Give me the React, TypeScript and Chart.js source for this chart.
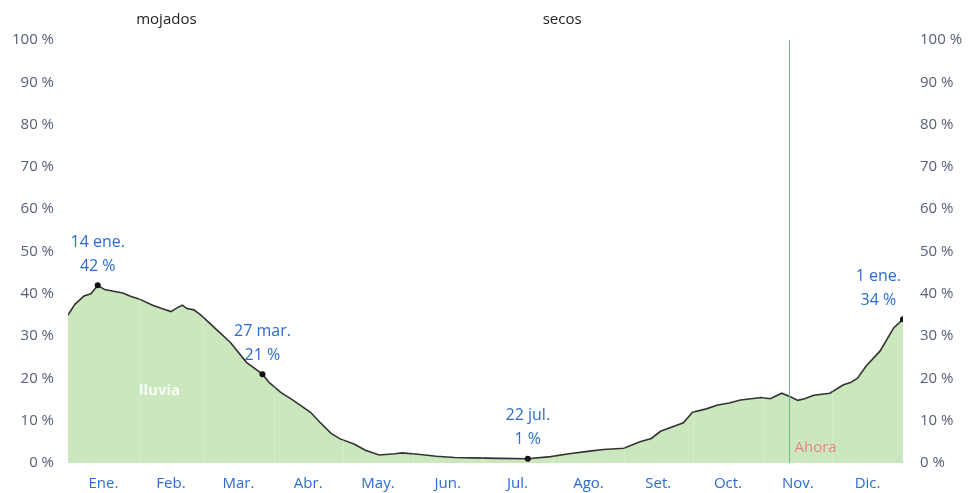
import React, { useEffect, useRef } from "react";
import { Chart, registerables } from "chart.js";

Chart.register(...registerables);

// Day of year (0 = 1 Jan) and daily chance of a wet day (%)
const DAYS = [0, 3, 7, 10, 13, 16, 21, 24, 27, 31, 37, 41, 45, 48, 50, 52, 55, 58, 62, 66, 71, 78, 85, 88, 93, 98, 106, 110, 115, 119, 125, 130, 136, 143, 146, 154, 161, 169, 177, 189, 201, 211, 219, 228, 234, 243, 250, 255, 259, 269, 273, 279, 284, 289, 294, 303, 307, 312, 316, 319, 322, 326, 333, 339, 342, 345, 349, 355, 361, 364, 365];
const RAIN = [35, 37.5, 39.5, 40, 42, 41, 40.5, 40.2, 39.5, 38.8, 37.3, 36.5, 35.8, 36.8, 37.3, 36.5, 36.2, 35, 33, 31, 28.5, 23.8, 21, 19, 16.7, 15, 12, 9.7, 7, 5.7, 4.5, 3, 1.9, 2.2, 2.4, 2, 1.6, 1.3, 1.2, 1.1, 1, 1.5, 2.2, 2.8, 3.2, 3.5, 5, 5.8, 7.5, 9.5, 12, 12.8, 13.7, 14.2, 14.9, 15.5, 15.2, 16.5, 15.6, 14.8, 15.2, 16, 16.5, 18.5, 19, 20, 23, 26.5, 32, 33.5, 34];

// Highlighted points
const HI_DAYS = [13, 85, 201, 365];
const HI_VALUES = [42, 21, 1, 34];
const HI_DATES = ["14 ene.", "27 mar.", "22 jul.", "1 ene."];

const MONTHS = ["Ene.", "Feb.", "Mar.", "Abr.", "May.", "Jun.", "Jul.", "Ago.", "Set.", "Oct.", "Nov.", "Dic."];
const MONTH_STARTS = [0, 31, 59, 90, 120, 151, 181, 212, 243, 273, 304, 334, 365];
const Y_TICKS = [0, 10, 20, 30, 40, 50, 60, 70, 80, 90, 100];

const NOW_DAY = 315;
const NOW_LABEL = "Ahora";
const SERIES_LABEL = "lluvia";
const SERIES_LABEL_POS = { day: 40, value: 17 };
const TOP_LABELS = [
  { text: "mojados", day: 43 },
  { text: "secos", day: 216 },
];

const FONT = "'Open Sans', 'Noto Sans', sans-serif";
const BLUE = "#2a6cd4";
const TICK_GRAY = "#56607a";
const GREEN = "#cbe7bd";

export default function App() {
  const ref = useRef<HTMLCanvasElement | null>(null);

  useEffect(() => {
    if (!ref.current) return;
    const monthMids = MONTHS.map((_, i) => (MONTH_STARTS[i] + MONTH_STARTS[i + 1]) / 2);

    const overlay = {
      id: "overlay",
      afterDatasetsDraw(chart: any) {
        const { ctx, chartArea } = chart;
        const xs = chart.scales.x;
        const ys = chart.scales.y;
        ctx.save();
        // faint month separators visible over the fill
        ctx.strokeStyle = "rgba(255,255,255,0.2)";
        ctx.lineWidth = 1;
        MONTH_STARTS.slice(1, -1).forEach((d) => {
          const px = Math.round(xs.getPixelForValue(d)) + 0.5;
          ctx.beginPath();
          ctx.moveTo(px, chartArea.top);
          ctx.lineTo(px, chartArea.bottom);
          ctx.stroke();
        });
        // now line
        const nx = Math.round(xs.getPixelForValue(NOW_DAY)) + 0.5;
        ctx.strokeStyle = "#ee7f93";
        ctx.lineWidth = 1;
        ctx.beginPath();
        ctx.moveTo(nx, chartArea.top);
        ctx.lineTo(nx, chartArea.bottom);
        ctx.stroke();
        ctx.fillStyle = "rgba(240,110,125,0.85)";
        ctx.font = `15px ${FONT}`;
        ctx.textAlign = "left";
        ctx.textBaseline = "middle";
        ctx.fillText(NOW_LABEL, nx + 5, chartArea.bottom - 15);

        // series label
        ctx.fillStyle = "rgba(255,255,255,0.85)";
        ctx.font = `bold 15px ${FONT}`;
        ctx.textAlign = "center";
        ctx.fillText(SERIES_LABEL, xs.getPixelForValue(SERIES_LABEL_POS.day), ys.getPixelForValue(SERIES_LABEL_POS.value));

        // top labels
        ctx.fillStyle = "#222";
        ctx.font = `15px ${FONT}`;
        TOP_LABELS.forEach((t) => {
          ctx.fillText(t.text, xs.getPixelForValue(t.day), 20);
        });

        // highlight labels
        ctx.fillStyle = BLUE;
        ctx.font = `16px ${FONT}`;
        HI_DAYS.forEach((d, i) => {
          const px = xs.getPixelForValue(d);
          const py = ys.getPixelForValue(HI_VALUES[i]);
          const l1 = HI_DATES[i];
          const l2 = `${HI_VALUES[i]} %`;
          const w = Math.max(ctx.measureText(l1).width, ctx.measureText(l2).width);
          let cx = px;
          cx = Math.max(cx, chartArea.left + w / 2 + 2);
          cx = Math.min(cx, chartArea.right - w / 2 - 2);
          ctx.fillText(l1, cx, py - 43);
          ctx.fillText(l2, cx, py - 19);
        });
        ctx.restore();
      },
    };

    const chart = new Chart(ref.current, {
      type: "line",
      data: {
        datasets: [
          {
            label: "hi",
            data: HI_DAYS.map((d, i) => ({ x: d, y: HI_VALUES[i] })),
            showLine: false,
            pointRadius: 3,
            pointBackgroundColor: "#111",
            pointBorderWidth: 0,
            order: 0,
          } as any,
          {
            label: SERIES_LABEL,
            data: DAYS.map((d, i) => ({ x: d, y: RAIN[i] })),
            borderColor: "#333",
            borderWidth: 1.6,
            backgroundColor: GREEN,
            fill: "origin",
            pointRadius: 0,
            tension: 0,
            order: 1,
          },
        ],
      },
      options: {
        animation: false,
        responsive: false,
        maintainAspectRatio: false,
        layout: { padding: { top: 40, bottom: 0, left: 0, right: 0 } },
        plugins: { legend: { display: false }, tooltip: { enabled: false } },
        scales: {
          x: {
            type: "linear",
            min: 0,
            max: 365,
            grid: { display: false },
            border: { display: false },
            afterBuildTicks: (scale: any) => {
              scale.ticks = monthMids.map((v) => ({ value: v }));
            },
            afterFit: (scale: any) => {
              scale.height = 30;
            },
            ticks: {
              autoSkip: false,
              maxRotation: 0,
              padding: 4,
              color: BLUE,
              font: { family: FONT, size: 15 },
              callback: (_v: any, i: number) => MONTHS[i],
            },
          },
          y: {
            position: "left",
            min: 0,
            max: 100,
            grid: { display: false },
            border: { display: false },
            afterBuildTicks: (scale: any) => {
              scale.ticks = Y_TICKS.map((v) => ({ value: v }));
            },
            afterFit: (scale: any) => {
              scale.width = 68;
            },
            ticks: {
              padding: 6,
              color: TICK_GRAY,
              font: { family: FONT, size: 15 },
              callback: (v: any) => `${v} %`,
            },
          },
          y2: {
            position: "right",
            min: 0,
            max: 100,
            grid: { display: false },
            border: { display: false },
            afterBuildTicks: (scale: any) => {
              scale.ticks = Y_TICKS.map((v) => ({ value: v }));
            },
            afterFit: (scale: any) => {
              scale.width = 69;
            },
            ticks: {
              padding: 9,
              color: TICK_GRAY,
              font: { family: FONT, size: 15 },
              callback: (v: any) => `${v} %`,
            },
          },
        },
      },
      plugins: [overlay],
    });
    return () => chart.destroy();
  }, []);

  return (
    <div style={{ position: "fixed", left: 0, top: 0, width: 972, height: 493, background: "#fff" }}>
      <canvas ref={ref} width={972} height={493} style={{ width: 972, height: 493 }} />
    </div>
  );
}
